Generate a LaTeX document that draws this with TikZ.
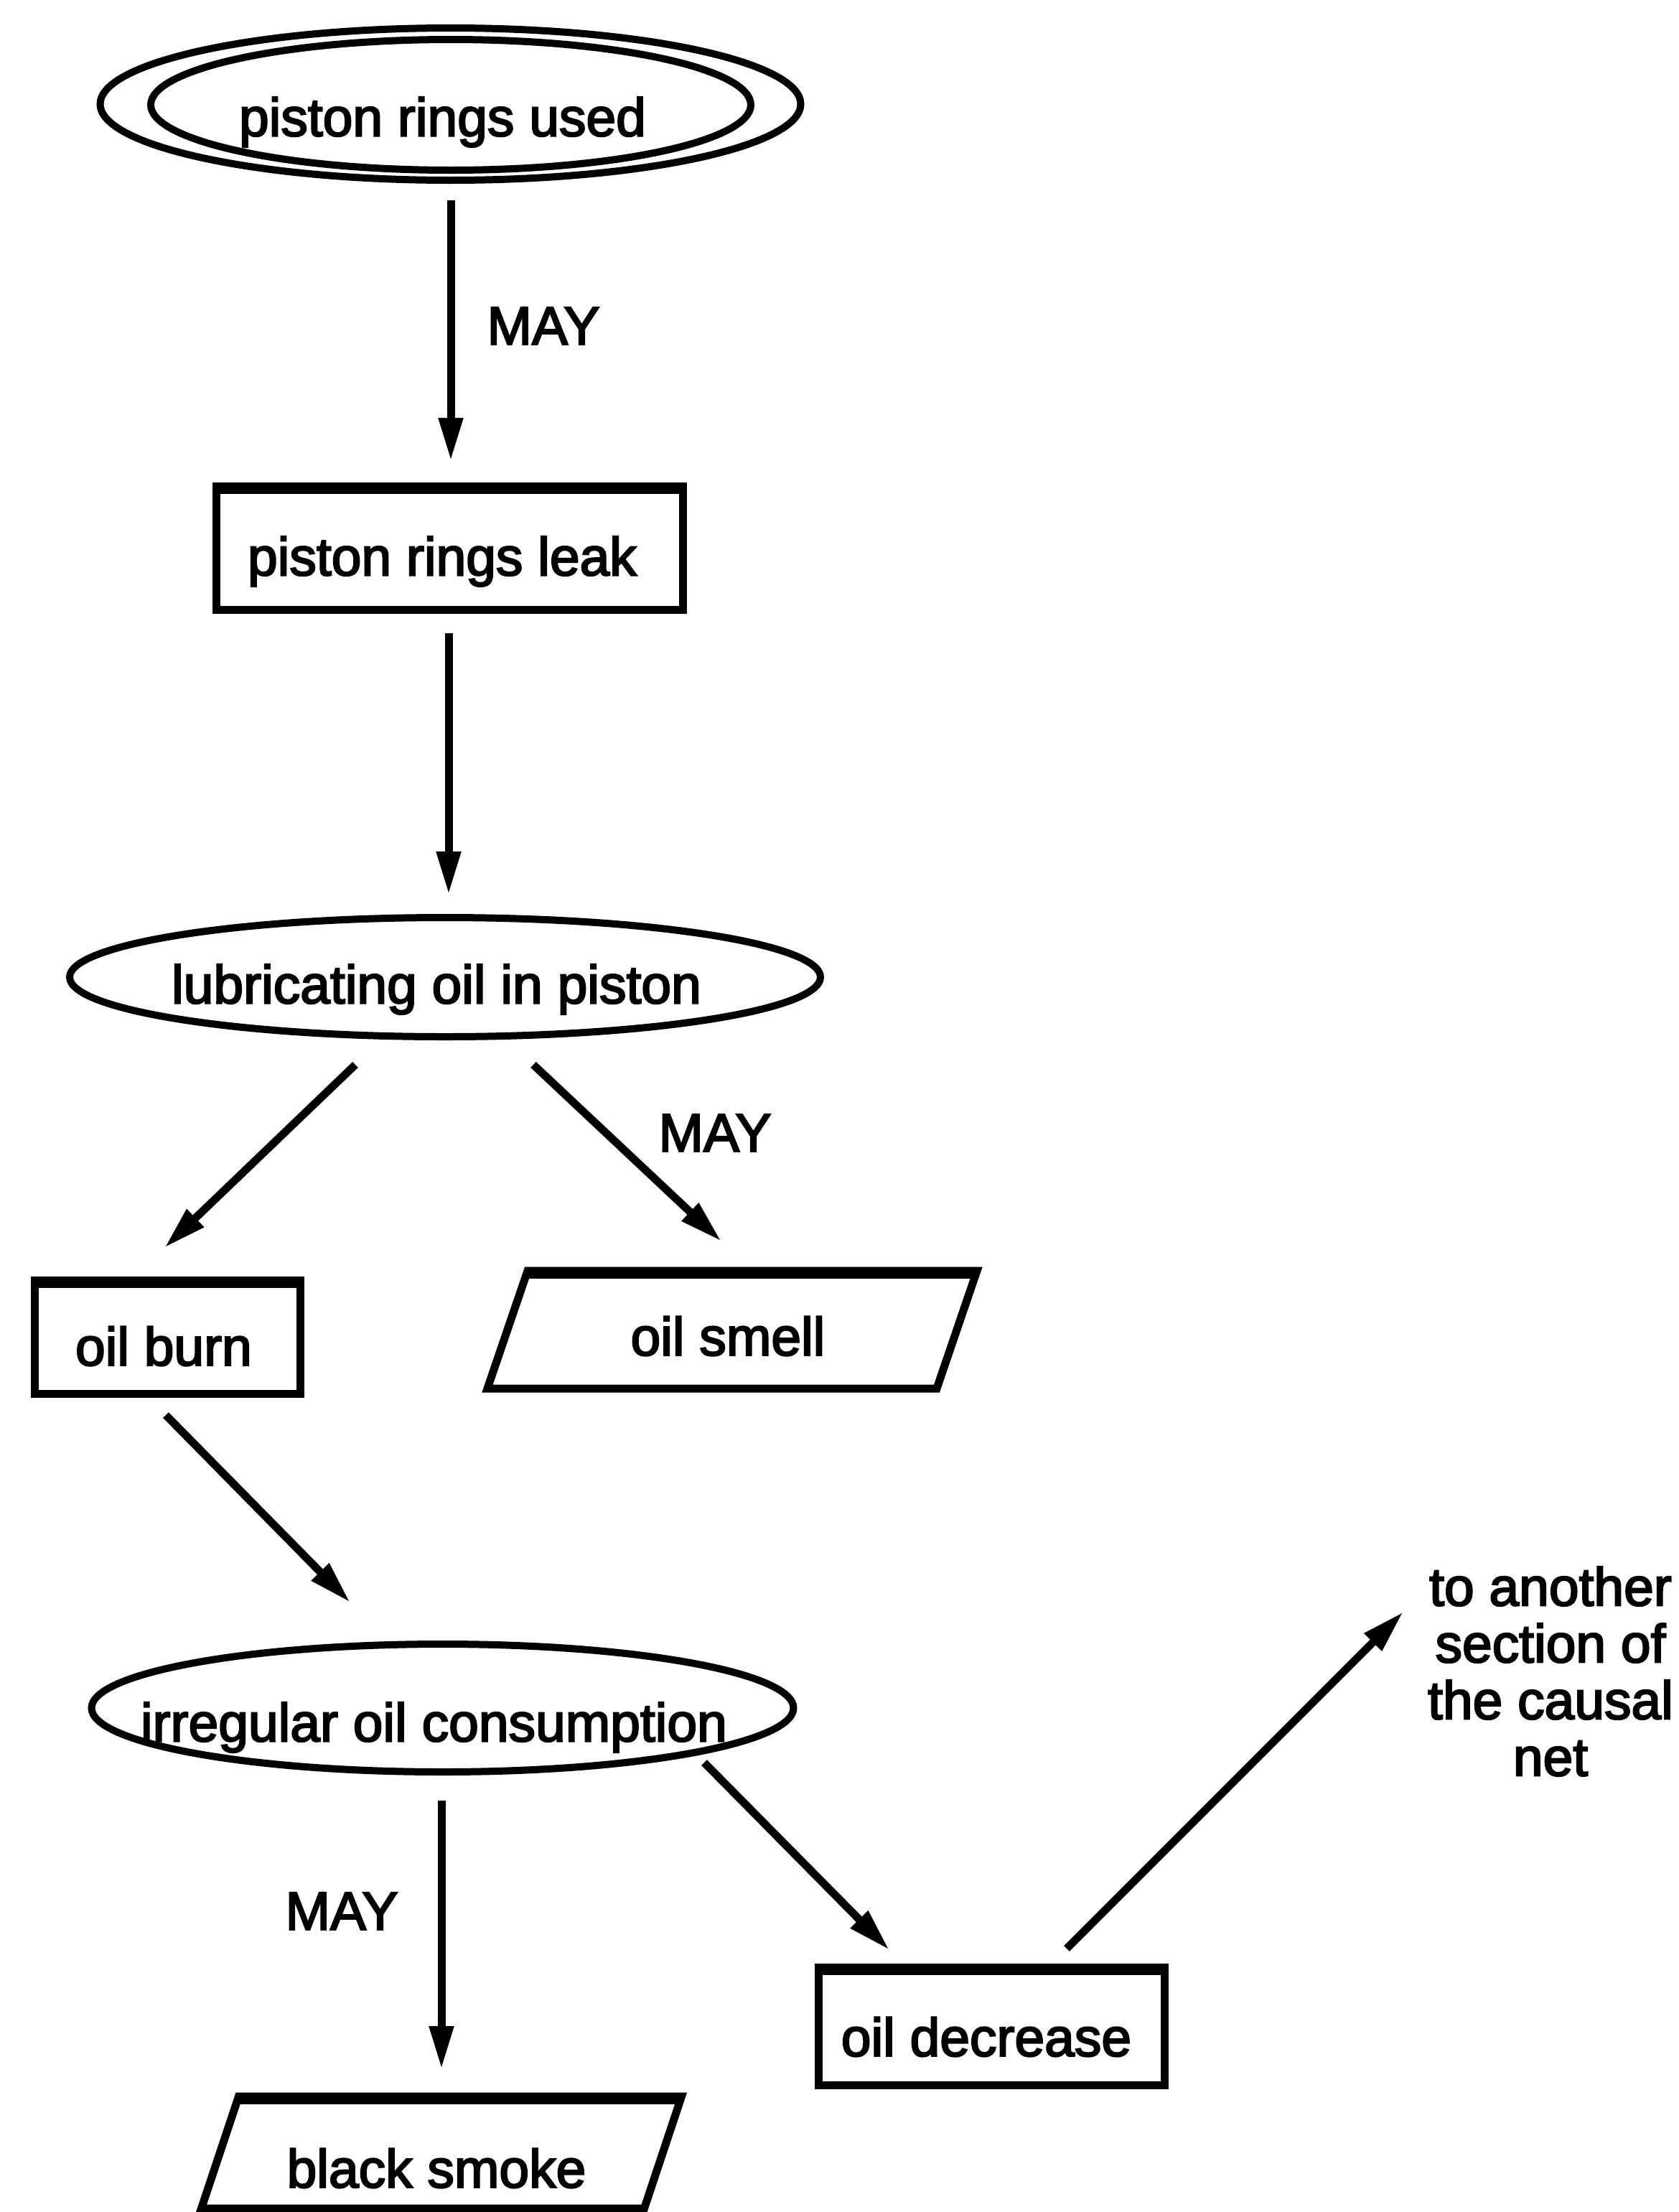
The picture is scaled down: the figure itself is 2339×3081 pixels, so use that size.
\documentclass[tikz,border=0pt]{standalone}
\usepackage{fontspec}
\setmainfont{Liberation Sans}[FakeBold=3]
\usetikzlibrary{calc,arrows.meta,shapes.geometric}

% text of zero width (so it never enlarges its shape), moved by (#1, #2)
\newcommand\placedtext[3]{\makebox[0pt]{\raisebox{#2}[\height][\depth]{\hspace*{#1}#3\hspace*{-#1}}}}

\begin{document}
\begin{tikzpicture}[x=1pt,y=-1pt,
  every node/.style={font=\fontsize{75}{79}\selectfont, inner sep=0pt, outer sep=0pt},
  oval/.style={ellipse, draw, line width=10pt},
  box/.style={rectangle, draw, line width=11pt},
  frame/.style={line width=11pt, line join=miter},
  heavy/.style={line width=8pt},
  arr/.style={line width=11pt, -{Triangle[length=60pt,width=32pt]}},
]
\useasboundingbox (0,0) rectangle (2339,3081);

% events
\node[oval, minimum width=976pt, minimum height=212pt] (used) at (627.5,145)
  {\placedtext{-11pt}{-25pt}{piston rings used}};
\draw[line width=10pt] ([shift={(0.5,1)}]used.center) ellipse [x radius=418pt, y radius=91pt];

\node[box, minimum width=650pt, minimum height=172pt] (leak) at (626,763)
  {\placedtext{-10pt}{-19pt}{piston rings leak}};

\node[oval, minimum width=1046pt, minimum height=166pt] (lub) at (620,1361)
  {\placedtext{-12pt}{-17pt}{lubricating oil in piston}};

\node[box, minimum width=370pt, minimum height=158pt] (burn) at (233,1862)
  {\placedtext{-5pt}{-13pt}{oil burn}};

\node[minimum width=626pt, minimum height=164pt] (smell) at (1020,1852)
  {\placedtext{-6pt}{-9pt}{oil smell}};
\draw[frame] ($(smell.north west)+(28,0)$) -- ($(smell.north east)+(28,0)$)
  -- ($(smell.south east)+(-28,0)$) -- ($(smell.south west)+(-28,0)$) -- cycle;

\node[oval, minimum width=978pt, minimum height=178pt] (irreg) at (616.5,2379)
  {\placedtext{-12pt}{-27pt}{irregular oil consumption}};

\node[box, minimum width=482pt, minimum height=164pt] (decr) at (1381,2822)
  {\placedtext{-7pt}{-15pt}{oil decrease}};

\node[minimum width=617pt, minimum height=156pt] (smoke) at (615,2998)
  {\placedtext{-7pt}{-22pt}{black smoke}};
\draw[frame] ($(smoke.north west)+(26,0)$) -- ($(smoke.north east)+(26,0)$)
  -- ($(smoke.south east)+(-26,0)$) -- ($(smoke.south west)+(-26,0)$) -- cycle;

\node[align=center] (beyond) at (2160,2328) {to another\\section of\\the causal\\net};
\coordinate (beyondend) at (1955,2245);

% heavier upper edges of the frames
\foreach \n in {leak,burn,decr}
  \draw[heavy] ($(\n.north west)+(0,7)$) -- ($(\n.north east)+(0,7)$);
\draw[heavy] ($(smell.north west)+(26,7)$) -- ($(smell.north east)+(26,7)$);
\draw[heavy] ($(smoke.north west)+(24,7)$) -- ($(smoke.north east)+(24,7)$);

% causal links
\draw[arr] ($(used.south)+(0.5,28)$) -- ($(leak.north)+(2,-35)$);
\node (may1) at (757,454) {MAY};
\draw[arr] ($(leak.south)+(-1,33)$) -- ($(lub.north)+(5,-32)$);
\draw[arr] ($(lub.south)+(-125,39)$) -- ($(burn.north)+(-4,-45)$);
\draw[arr] ($(lub.south)+(123,39)$) -- ($(smell.north)+(-15,-41)$);
\node (may2) at (996,1578) {MAY};
\draw[arr] ($(burn.south)+(-2,30)$) -- ($(irreg.north)+(-128.5,-58)$);
\draw[arr] ($(irreg.south)+(-1.5,40)$) -- ($(smoke.north)+(0,-38)$);
\node (may3) at (476,2662) {MAY};
\draw[arr] ($(irreg.center)+(364.5,76)$) -- ($(decr.north)+(-142,-24)$);
\draw[arr] ($(decr.north)+(105,-26)$) -- (beyondend);

\end{tikzpicture}
\end{document}
